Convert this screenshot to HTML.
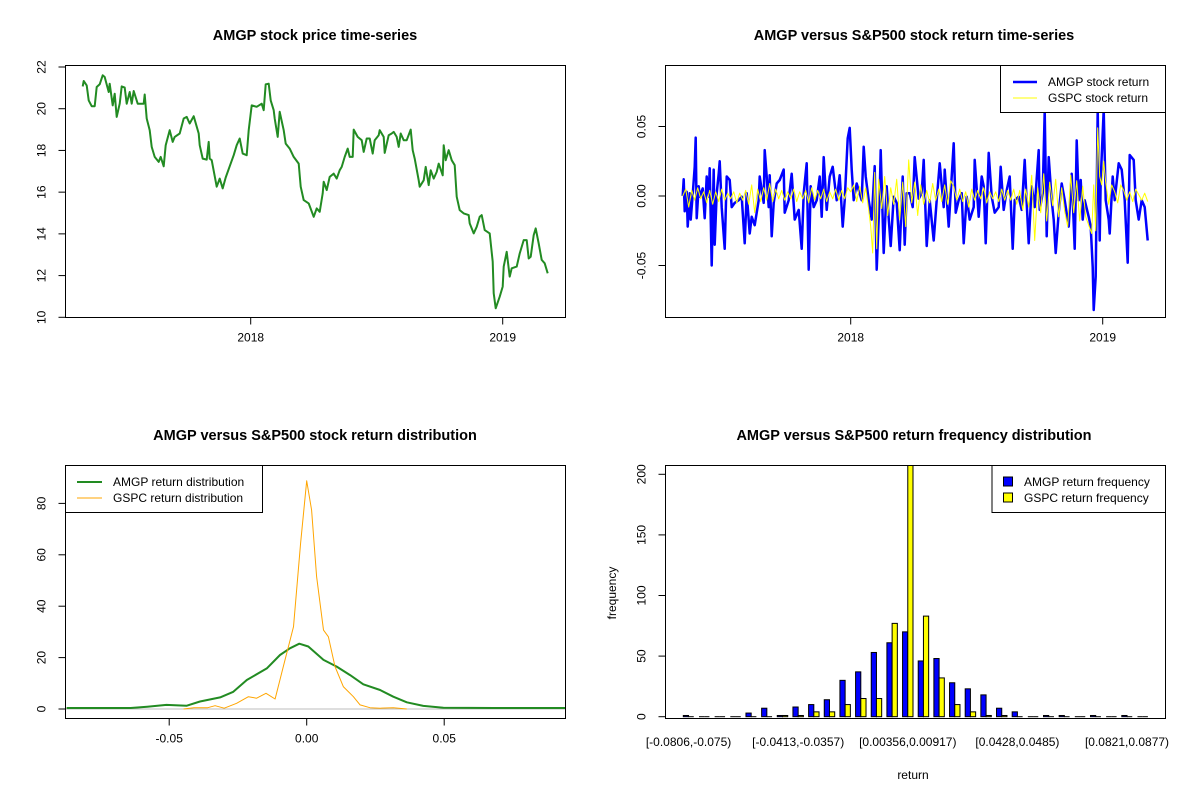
<!DOCTYPE html>
<html><head><meta charset="utf-8"><style>
body{margin:0;background:#fff;}
svg{display:block;font-family:"Liberation Sans",Arial,sans-serif;}
</style></head><body>
<svg id="s" width="1200" height="800" viewBox="0 0 1200 800"></svg>
<script>
// ---------- data ----------
const priceDays=[0,1,4,6,9,12,14,17,20,22,26,27,30,32,34,37,39,42,44,47,49,51,55,61,62,64,67,69,72,76,78,81,83,87,90,92,97,101,104,107,111,116,117,120,124,126,127,129,134,137,140,143,147,151,154,157,160,164,166,169,174,179,181,183,186,188,191,192,195,197,201,203,207,211,216,218,221,226,231,234,237,240,241,244,247,251,254,257,259,262,265,267,270,271,275,279,281,284,287,290,292,296,297,301,302,306,309,311,314,316,318,321,324,328,330,332,336,337,341,343,346,348,351,354,356,360,361,363,366,369,372,374,377,381,386,387,391,394,397,399,402,407,410,411,413,417,420,421,424,427,429,434,437,441,444,446,448,451,453,456,459,462,465];
const prices=[21.07,21.33,21.12,20.40,20.12,20.12,21.04,21.17,21.60,21.52,20.80,21.20,20.16,20.72,19.61,20.24,21.07,21.01,20.24,20.80,20.24,20.85,20.24,20.24,20.68,19.53,18.97,18.17,17.69,17.45,17.69,17.24,18.25,18.97,18.41,18.65,18.81,19.53,19.61,19.29,19.64,18.81,18.25,17.61,17.56,18.41,17.61,17.53,16.26,16.65,16.18,16.70,17.24,17.77,18.25,18.57,17.85,17.77,18.97,20.16,20.09,20.24,19.93,21.17,21.20,20.40,19.93,19.53,18.65,19.85,18.97,18.33,18.09,17.69,17.37,16.26,15.62,15.46,14.82,15.22,15.06,15.94,16.50,16.10,16.73,16.89,16.65,17.05,17.21,17.69,18.09,17.69,17.69,19.00,18.65,18.49,17.93,18.57,18.57,17.85,18.49,18.73,18.97,18.65,17.88,18.73,18.81,18.89,18.65,18.17,18.81,18.49,18.49,19.00,18.01,17.61,16.57,16.26,16.57,17.21,16.34,17.05,16.65,16.97,17.37,16.81,18.25,17.53,18.01,17.53,17.29,15.78,15.14,14.98,14.90,14.50,14.02,14.34,14.82,14.90,14.18,14.02,12.67,11.15,10.43,10.99,11.47,12.43,13.14,11.95,12.35,12.43,13.06,13.70,13.70,12.82,12.90,13.94,14.26,13.54,12.75,12.59,12.11];
const yearTicks=[2018,2019];
const yearTickDays=[168,420];
const priceTicks=[10,12,14,16,18,20,22];

const amgpDays=[0,1,2,4,5,7,8,10,12,13,14,16,17,20,22,24,26,27,29,31,32,34,36,37,39,42,44,47,49,52,56,59,62,64,67,69,72,76,77,81,82,84,86,87,89,91,94,97,101,102,106,109,112,116,119,121,124,126,128,131,134,137,139,141,144,147,150,154,157,160,162,165,167,169,171,174,176,179,181,183,186,189,192,194,197,198,201,204,206,208,211,214,217,220,222,224,227,230,232,236,239,241,244,247,251,254,257,261,262,266,269,271,273,276,279,281,284,287,291,292,296,299,301,303,306,309,312,316,318,321,324,327,330,332,336,339,342,344,346,349,352,356,357,360,362,364,366,369,371,373,376,379,382,386,389,392,394,396,398,400,402,406,408,410,411,413,415,417,418,421,423,426,427,430,432,436,439,442,445,447,451,453,456,459,462,465];
const amgpRetPct=[0,1.2,-1.1,0.3,-2.2,0.2,-1.7,0.1,2.1,4.2,-1.6,0.7,-0.05,0.55,-1.6,1.4,-0.05,2.0,-5.0,1.9,-3.5,0.2,1.6,2.5,-0.8,-3.8,1.4,1.15,-0.8,-0.5,-0.3,-0.05,-3.4,0.2,-2.7,-1.5,-2.1,-0.3,1.4,-0.5,3.3,1.4,-0.8,1.5,-2.9,-0.5,0.9,1.15,1.9,-1.2,-0.3,1.6,-1.7,-1.0,-3.8,0.2,2.35,-5.3,0.7,-0.8,-0.3,1.4,-1.5,2.8,-1.0,1.4,2.1,-0.3,1.5,-2.2,-0.3,4.15,4.9,1.9,-0.3,0.9,0.4,-0.3,3.55,1.4,-0.3,-1.7,2.15,-5.3,0.2,3.3,-4.1,0.7,-1.6,-3.6,-0.05,-0.5,-3.9,1.4,-3.5,0.2,0.2,-0.8,2.8,-0.2,0.2,2.6,-3.6,-0.3,-3.2,-0.3,2.35,-0.8,1.9,-2.2,1.4,3.8,-1.2,-0.3,0.2,-3.4,-0.05,-1.7,-0.8,2.6,-1.5,1.4,0.7,-3.4,3.1,-0.05,-1.2,-0.8,2.1,-1.0,0.4,1.4,-3.8,-0.3,-0.05,-1.0,2.6,-0.5,-3.4,0.7,-0.8,3.3,-1.0,0.2,6.1,-2.9,2.8,-0.3,-1.7,-4.1,-1.2,0.9,-0.3,-2.2,1.6,-3.8,4.0,-0.3,1.15,-1.7,-0.3,-1.5,-2.2,-5.1,-8.2,-5.8,6.2,-3.2,1.15,6.2,-0.3,-1.7,-2.7,1.4,-0.3,2.35,1.9,-0.3,-4.8,2.95,2.6,-0.3,-1.7,-0.3,-0.8,-3.2];
const gspcDays=[0,3,6,9,12,15,18,21,24,27,30,33,36,39,42,45,48,51,54,57,60,63,66,69,72,75,78,81,84,87,90,93,96,99,102,105,108,111,114,117,120,123,126,129,132,135,138,141,144,147,150,153,156,159,162,165,168,171,174,177,180,183,186,188,190,192,194,196,199,202,205,208,211,214,217,220,223,226,229,232,235,238,241,244,247,250,253,256,259,262,265,268,271,274,277,280,283,286,289,292,295,298,301,304,307,310,313,316,319,322,325,328,331,334,337,340,343,346,349,352,355,358,361,364,367,370,373,376,379,382,385,388,391,394,397,400,403,406,409,411,413,415,417,419,421,423,426,429,432,435,438,441,444,447,450,453,456,459,462,465];
const gspcRetPct=[0,0.5,-0.8,0.4,-0.3,0.6,-0.2,0.3,-0.5,0.4,-0.6,0.3,-0.4,0.5,-0.3,0.2,-0.2,0.3,-0.5,0.2,-0.3,0.4,-0.6,0.8,-1.2,0.5,-0.4,0.6,-0.3,0.9,-0.4,0.5,-0.2,0.4,-0.3,0.3,-0.2,0.5,-0.4,0.3,-0.2,0.4,-0.5,0.6,-0.3,0.4,-0.2,0.5,-0.4,0.3,-0.2,0.5,-0.3,0.4,-0.2,0.6,0.3,0.8,-0.4,0.7,-0.5,0.6,-1.0,-2.2,-4.1,1.7,-3.8,1.2,-0.9,1.4,-1.4,0.6,-0.6,1.2,-1.7,1.0,-2.2,2.6,-0.5,1.0,-1.4,0.8,-0.6,0.4,-0.5,0.9,-0.3,0.5,-0.4,0.8,-0.6,1.1,0.7,-0.3,0.5,-0.4,0.3,-0.8,0.5,-0.3,0.4,-0.2,0.6,-0.5,0.3,-0.2,0.3,-0.4,0.5,-0.3,0.4,-0.3,0.5,-0.6,0.4,-1.0,0.5,-0.8,1.5,-3.2,0.6,-1.2,1.6,-1.8,1.0,-0.7,1.2,-1.5,0.6,-1.1,-2.2,1.5,-1.2,1.1,-1.8,0.7,-1.5,-2.1,-2.7,0.8,-2.5,4.9,1.4,0.8,2.5,1.0,-0.6,0.8,0.3,-0.5,0.8,0.4,-0.3,0.3,-0.4,0.5,0.1,-0.3,0.2,-0.4];
const retTicks=[-0.05,0,0.05];
const retTickLabels=["-0.05","0.00","0.05"];

const amgpDensX=[-0.0873,-0.078,-0.064,-0.058,-0.051,-0.0436,-0.0388,-0.0315,-0.0267,-0.0218,-0.0145,-0.0097,-0.0061,-0.0027,0.0006,0.0061,0.0109,0.0158,0.0206,0.0267,0.0315,0.0364,0.0424,0.0497,0.068,0.094];
const amgpDensY=[0.4,0.4,0.4,0.9,1.6,1.3,2.9,4.5,6.7,11.3,15.8,21.0,23.6,25.4,24.3,19.1,16.5,13.2,9.6,7.4,4.8,2.6,1.2,0.5,0.4,0.4];
const gspcDensX=[-0.0448,-0.041,-0.036,-0.0333,-0.030,-0.0255,-0.0212,-0.0182,-0.0148,-0.0115,-0.0085,-0.0048,-0.0022,0,0.0018,0.0036,0.0061,0.0079,0.0103,0.0133,0.017,0.0194,0.023,0.0267,0.0315,0.0364];
const gspcDensY=[0,0.5,0.5,1.3,0.3,2.2,4.8,4.2,6.1,3.9,16.5,32.0,64.5,88.8,77.4,51.5,30.7,28.1,16.5,8.7,4.8,1.6,0.5,0.3,0.5,0];
const densXTicks=[-0.05,0,0.05];
const densXLabels=["-0.05","0.00","0.05"];
const densYTicks=[0,20,40,60,80];

const amgpFreq=[1,0,0,0,3,7,1,8,10,14,30,37,53,61,70,46,48,28,23,18,7,4,0,1,1,0,1,0,1,0];
const gspcFreq=[0,0,0,0,0,0,1,1,4,4,10,15,15,77,220,83,32,10,4,1,1,0,0,0,0,0,0,0,0,0];
const binLabelIdx=[0,7,14,21,28];
const binLabels=["[-0.0806,-0.075)","[-0.0413,-0.0357)","[0.00356,0.00917)","[0.0428,0.0485)","[0.0821,0.0877)"];
const freqTicks=[0,50,100,150,200];

// ---------- helpers ----------
const NS="http://www.w3.org/2000/svg";
const svg=document.getElementById('s');
function mk(tag,attrs,parent,text){const e=document.createElementNS(NS,tag);for(const k in attrs)e.setAttribute(k,attrs[k]);if(text!==undefined)e.textContent=text;(parent||svg).appendChild(e);return e;}
function group(name){const g=mk('g',{});


return g;}
function txt(g,x,y,s,opt){opt=opt||{};const t=mk('text',{x:x,y:y,'font-size':opt.size||12,'text-anchor':opt.anchor||'middle',fill:'#000','font-weight':opt.bold?'bold':'normal'},g,s);
if(opt.rot)t.setAttribute('transform','rotate(-90 '+x+' '+y+')');


return t;}
function box(g,x0,y0,x1,y1){const r=mk('rect',{x:x0,y:y0,width:x1-x0,height:y1-y0,fill:'none',stroke:'#000','stroke-width':1},g);

}
function line(g,x1,y1,x2,y2,c,w){return mk('line',{x1:x1,y1:y1,x2:x2,y2:y2,stroke:c||'#000','stroke-width':w||1},g);}
function yAxis(g,x,ticks,labels,sc){const a=line(g,x,sc(ticks[0]),x,sc(ticks[ticks.length-1]));


ticks.forEach((v,i)=>{const y=sc(v);line(g,x,y,x-7,y);const t=txt(g,x-20,y,labels[i],{rot:true});
});}
function xAxis(g,y,ticks,labels,sc){const a=line(g,sc(ticks[0]),y,sc(ticks[ticks.length-1]),y);


ticks.forEach((v,i)=>{const x=sc(v);line(g,x,y,x,y+7);const t=txt(g,x,y+24,labels[i]);
});}
function poly(g,xs,ys,sx,sy,c,w,name){let pts=[];for(let i=0;i<xs.length;i++){pts.push(sx(xs[i]).toFixed(1)+','+sy(ys[i]).toFixed(1));}
const p=mk('polyline',{points:pts.join(' '),fill:'none',stroke:c,'stroke-width':w,'stroke-linejoin':'round'},g);


return p;}

// ---------- panel 1: price ----------
(function(){const g=group('price-panel');
const sx=d=>82.7+d, sy=v=>317.3-(v-10)*(250.3/12);
txt(g,315,40,'AMGP stock price time-series',{size:14.5,bold:true,name:'price-title'});
box(g,65.5,65.5,565.5,317.5);
poly(g,priceDays,prices,sx,sy,'#228B22',2,'price-line');
yAxis(g,65.5,priceTicks,priceTicks.map(String),sy);
xAxis(g,317.5,yearTickDays,yearTicks.map(String),sx);
})();

// ---------- panel 2: returns ----------
(function(){const g=group('return-panel');
const sx=d=>682.7+d, sy=v=>196-v*1390;
txt(g,914,40,'AMGP versus S&P500 stock return time-series',{size:14.5,bold:true,name:'return-title'});
box(g,665.5,65.5,1165.5,317.5);
const cp=mk('clipPath',{id:'c2'},g);mk('rect',{x:666,y:66,width:499,height:251},cp);
const inner=mk('g',{'clip-path':'url(#c2)'},g);
poly(inner,amgpDays,amgpRetPct.map(v=>v/100),sx,sy,'#0000FF',2.5,'amgp-return-line');
poly(inner,gspcDays,gspcRetPct.map(v=>v/100),sx,sy,'#FFFF00',1,'gspc-return-line');
yAxis(g,665.5,retTicks,retTickLabels,sy);
xAxis(g,317.5,yearTickDays,yearTicks.map(String),sx);
const lg=group('return-legend');g.appendChild(lg);
mk('rect',{x:1000.5,y:65.5,width:165,height:47,fill:'#fff',stroke:'#000'},lg);
line(lg,1013,82,1037,82,'#0000FF',2.5);line(lg,1013,98,1037,98,'#FFFF00',1);
txt(lg,1048,86,'AMGP stock return',{anchor:'start',name:'legend-amgp'});
txt(lg,1048,102,'GSPC stock return',{anchor:'start',name:'legend-gspc'});
})();

// ---------- panel 3: density ----------
(function(){const g=group('density-panel');
const sx=v=>306.7+v*2750, sy=v=>709-v*2.57;
txt(g,315,440,'AMGP versus S&P500 stock return distribution',{size:14.5,bold:true,name:'density-title'});
box(g,65.5,465.5,565.5,718.5);
line(g,66,709,565,709,'#bebebe',1);
const cp=mk('clipPath',{id:'c3'},g);mk('rect',{x:66,y:466,width:499,height:252},cp);
const inner=mk('g',{'clip-path':'url(#c3)'},g);
poly(inner,amgpDensX,amgpDensY,sx,sy,'#228B22',2,'amgp-density-line');
poly(inner,gspcDensX,gspcDensY,sx,sy,'#FFA500',1,'gspc-density-line');
yAxis(g,65.5,densYTicks,densYTicks.map(String),sy);
xAxis(g,718.5,densXTicks,densXLabels,sx);
const lg=group('density-legend');g.appendChild(lg);
mk('rect',{x:65.5,y:465.5,width:197,height:47,fill:'#fff',stroke:'#000'},lg);
line(lg,77,482,102,482,'#228B22',2);line(lg,77,498,102,498,'#FFA500',1);
txt(lg,113,486,'AMGP return distribution',{anchor:'start',name:'legend-amgp'});
txt(lg,113,502,'GSPC return distribution',{anchor:'start',name:'legend-gspc'});
})();

// ---------- panel 4: histogram ----------
(function(){const g=group('histogram-panel');
const u=5.22, x0=678.1;
const gx=i=>x0+i*3*u+u; const sy=v=>716.7-v*1.212;
txt(g,914,440,'AMGP versus S&P500 return frequency distribution',{size:14.5,bold:true,name:'histogram-title'});
const cp=mk('clipPath',{id:'c4'},g);mk('rect',{x:666,y:466,width:499,height:252},cp);
const inner=mk('g',{'clip-path':'url(#c4)'},g);
function bar(x,v,fill,name){
  if(v<=0){const l=line(inner,x,716.7,x+u,716.7,'#000',1);
  
  return;}
  const r=mk('rect',{x:x,y:sy(v),width:u,height:716.7-sy(v),fill:fill,stroke:'#000','stroke-width':1},inner);
  
  }
amgpFreq.forEach((v,i)=>bar(gx(i),v,'#0000FF','bar-amgp'));
gspcFreq.forEach((v,i)=>bar(gx(i)+u,v,'#FFFF00','bar-gspc'));
box(g,665.5,465.5,1165.5,718.5);
yAxis(g,665.5,freqTicks,freqTicks.map(String),sy);
binLabelIdx.forEach((b,k)=>{const t=txt(g,gx(b)+u,746,binLabels[k]);
});
txt(g,913,779,'return',{name:'x-axis-title'});
txt(g,616,593,'frequency',{rot:true,name:'y-axis-title'});
const lg=group('histogram-legend');g.appendChild(lg);
mk('rect',{x:992,y:465.5,width:173.5,height:47,fill:'#fff',stroke:'#000'},lg);
mk('rect',{x:1003.5,y:477,width:9,height:9,fill:'#0000FF',stroke:'#000'},lg);
mk('rect',{x:1003.5,y:493,width:9,height:9,fill:'#FFFF00',stroke:'#000'},lg);
txt(lg,1024,486,'AMGP return frequency',{anchor:'start',name:'legend-amgp'});
txt(lg,1024,502,'GSPC return frequency',{anchor:'start',name:'legend-gspc'});
})();
</script>
</body></html>
